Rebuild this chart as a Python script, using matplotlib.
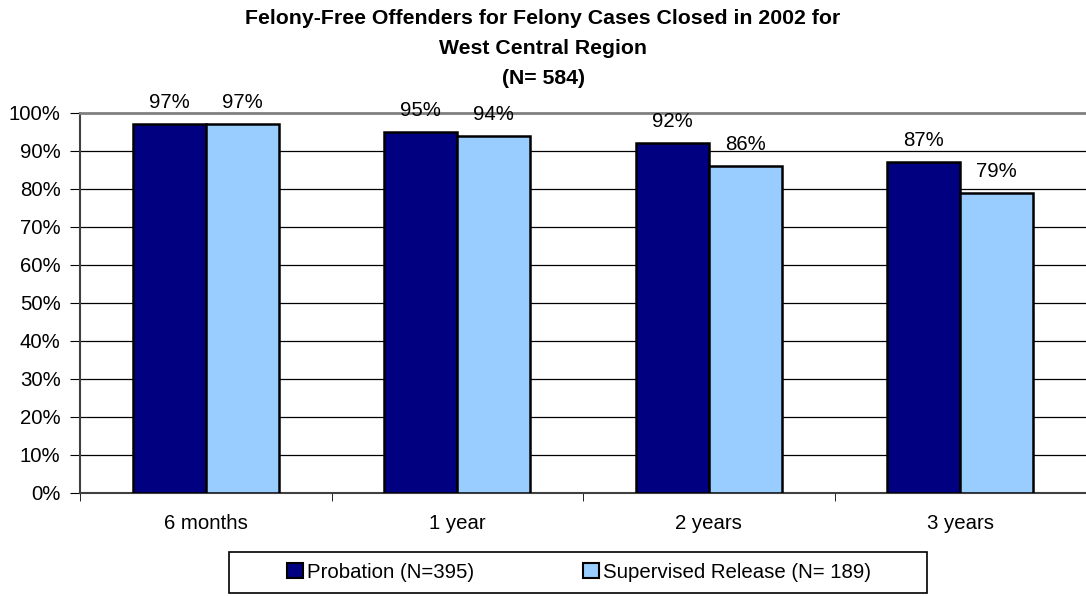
import matplotlib

matplotlib.use("Agg")
import matplotlib.pyplot as plt
from matplotlib.patches import Rectangle
import numpy as np

plt.rcParams["font.family"] = ["Liberation Sans", "DejaVu Sans"]

categories = ["6 months", "1 year", "2 years", "3 years"]
probation = [97, 95, 92, 87]
supervised = [97, 94, 86, 79]
series_names = ["Probation (N=395)", "Supervised Release (N= 189)"]
title_lines = ["Felony-Free Offenders for Felony Cases Closed in 2002 for",
               "West Central Region", "(N= 584)"]

W, H = 1086, 596
fig = plt.figure(figsize=(W / 100, H / 100), dpi=100)
ax = fig.add_axes([80 / W, 103 / H, 1006 / W, 380 / H])

x = np.arange(len(categories))
w = 0.29
b1 = ax.bar(x - w / 2, probation, w, color="#000080", edgecolor="black", linewidth=1.8,
            label=series_names[0], zorder=3)
b2 = ax.bar(x + w / 2, supervised, w, color="#99CCFF", edgecolor="black", linewidth=1.8,
            label=series_names[1], zorder=3)

for bars, vals in ((b1, probation), (b2, supervised)):
    for r, v in zip(bars, vals):
        ax.annotate(f"{v}%", (r.get_x() + r.get_width() / 2, v), xytext=(0, 15.5),
                    textcoords="offset points", ha="center", va="center", fontsize=14.7)

ax.set_xlim(-0.5, len(categories) - 0.5)
ax.set_ylim(0, 100)
ax.set_yticks(range(0, 101, 10))
ax.set_yticklabels([f"{t}%" for t in range(0, 101, 10)], fontsize=14.7)
ax.set_xticks(x)
ax.set_xticklabels(categories, fontsize=14.7)
ax.tick_params(axis="x", length=0, pad=15)
ax.set_xticks(np.arange(-0.5, len(categories) - 0.4, 1), minor=True)
ax.tick_params(axis="x", which="minor", length=6, direction="out", color="black")
ax.tick_params(axis="y", length=7, direction="out", pad=7)

for yv in range(10, 100, 10):
    ax.axhline(yv, color="black", linewidth=0.9, zorder=1)

ax.spines["right"].set_visible(False)
ax.spines["top"].set_color("#808080")
ax.spines["top"].set_linewidth(2)
ax.spines["left"].set_color("#404040")
ax.spines["bottom"].set_color("#404040")
ax.spines["left"].set_linewidth(1.5)
ax.spines["bottom"].set_linewidth(1.5)

for line, ypx in zip(title_lines, [19, 49, 79]):
    fig.text(0.5, 1 - ypx / H, line, ha="center", va="center", fontsize=15.3,
             fontweight="bold")

# legend box
fig.patches.append(Rectangle((229 / W, 3 / H), 698 / W, 41 / H, transform=fig.transFigure,
                             facecolor="white", edgecolor="black", linewidth=1.2))
leg = fig.legend(loc="center", bbox_to_anchor=(579 / W, 1 - 572 / H), ncol=2,
                 fontsize=14.7, frameon=False,
                 handlelength=0.8, handleheight=0.8, handletextpad=0.2,
                 columnspacing=5.3)
for h in leg.legend_handles:
    h.set_linewidth(1.5)

fig.savefig("out.png", dpi=100)
